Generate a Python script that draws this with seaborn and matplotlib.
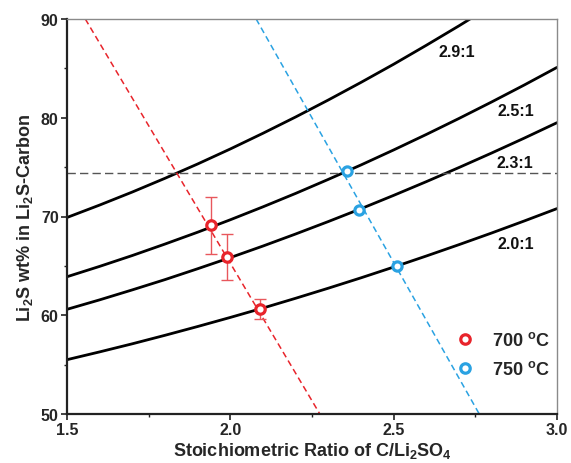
import matplotlib
matplotlib.use("Agg")
import matplotlib.pyplot as plt
from matplotlib.lines import Line2D
import seaborn as sns
import pandas as pd

# Li2S content curves for different C/Li2SO4 consumption ratios
ratio_x = [1.5, 1.6, 1.7, 1.8, 1.9, 2.0, 2.1, 2.2, 2.3, 2.4, 2.5,
           2.6, 2.7, 2.8, 2.9, 3.0]
ratio_20_y = [55.5, 56.29, 57.11, 57.97, 58.86, 59.78, 60.73, 61.72,
              62.74, 63.79, 64.88, 66.0, 67.15, 68.33, 69.55, 70.8]
ratio_23_y = [60.6, 61.56, 62.57, 63.61, 64.71, 65.84, 67.01, 68.23,
              69.49, 70.79, 72.14, 73.53, 74.96, 76.43, 77.94, 79.5]
ratio_25_y = [63.9, 64.95, 66.05, 67.21, 68.41, 69.67, 70.98, 72.34,
              73.76, 75.22, 76.74, 78.31, 79.93, 81.6, 83.32, 85.1]
ratio_29_y = [69.9, 71.16, 72.48, 73.87, 75.32, 76.84, 78.43, 80.08,
              81.8, 83.58, 85.42, 87.34, 89.31, 91.36, 93.5, 95.7]
curve_labels = ["2.0:1", "2.3:1", "2.5:1", "2.9:1"]

# measured samples
x_700 = [1.94, 1.99, 2.09]
y_700 = [69.1, 65.9, 60.6]
err_700 = [2.85, 2.3, 1.0]
x_750 = [2.358, 2.393, 2.511]
y_750 = [74.6, 70.7, 65.0]

# guide lines through each temperature series and the target level
guide_700_x = [1.556, 2.274]
guide_700_y = [90, 50]
guide_750_x = [2.079, 2.762]
guide_750_y = [90, 50]
target_level = 74.4

legend_labels = [r"700 $^{\mathbf{o}}$C", r"750 $^{\mathbf{o}}$C"]

RED = "#e8242b"
BLUE = "#2aa2e2"

sns.set_theme(style="ticks")
plt.rcParams["font.family"] = ["Liberation Sans", "DejaVu Sans"]
plt.rcParams["font.weight"] = "bold"
plt.rcParams["mathtext.fontset"] = "custom"
plt.rcParams["mathtext.rm"] = "Liberation Sans:bold"
plt.rcParams["mathtext.bf"] = "Liberation Sans:bold"
plt.rcParams["mathtext.default"] = "bf"

fig = plt.figure(figsize=(5.71, 4.64), dpi=100)
ax = fig.add_axes([67 / 571, 1 - 415 / 464, 490 / 571, 395 / 464])

curves = pd.concat([
    pd.DataFrame({"x": ratio_x, "y": ys, "c": lab})
    for ys, lab in zip([ratio_20_y, ratio_23_y, ratio_25_y, ratio_29_y],
                       curve_labels)
])
sns.lineplot(data=curves, x="x", y="y", units="c", estimator=None,
             color="black", lw=2.0, ax=ax, legend=False)

# dashed guides
sns.lineplot(x=guide_700_x, y=guide_700_y, color=RED, lw=1.1, ax=ax,
             linestyle=(0, (4, 2.5)), estimator=None)
sns.lineplot(x=guide_750_x, y=guide_750_y, color=BLUE, lw=1.1, ax=ax,
             linestyle=(0, (4, 2.5)), estimator=None)
ax.axhline(target_level, color="#555555", lw=1.0, linestyle=(0, (6, 3)))

# error bars for 700 °C samples
ax.errorbar(x_700, y_700, yerr=err_700, fmt="none", ecolor="#e8575c",
            elinewidth=1.0, capsize=4, capthick=1.0, zorder=4)

sns.scatterplot(x=x_700, y=y_700, marker="o", s=46, facecolor="white",
                edgecolor=RED, linewidth=2.3, ax=ax, zorder=5)
sns.scatterplot(x=x_750, y=y_750, marker="o", s=44, facecolor="white",
                edgecolor=BLUE, linewidth=2.3, ax=ax, zorder=5)

# curve annotations
label_pos = [(2.874, 67.3), (2.871, 75.45), (2.874, 80.7), (2.693, 86.75)]
for lab, (lx, ly) in zip(curve_labels, label_pos):
    ax.text(lx, ly, lab, ha="center", va="center", fontsize=11.5,
            fontweight="bold", color="#111111")

handles = [
    Line2D([], [], marker="o", ls="none", markersize=6.8, markerfacecolor="white",
           markeredgecolor=RED, markeredgewidth=2.3),
    Line2D([], [], marker="o", ls="none", markersize=6.8, markerfacecolor="white",
           markeredgecolor=BLUE, markeredgewidth=2.3),
]
leg = ax.legend(handles, legend_labels, loc="upper left",
                bbox_to_anchor=(0.775, 0.228), frameon=False,
                prop={"size": 13, "weight": "bold"}, handletextpad=0.9,
                labelspacing=0.62, handlelength=1.2, borderaxespad=0)

ax.set_xlim(1.5, 3.0)
ax.set_ylim(50, 90)
ax.set_xticks([1.5, 2.0, 2.5, 3.0])
ax.set_xticks([1.75, 2.25, 2.75], minor=True)
ax.set_yticks([50, 60, 70, 80, 90])
ax.set_yticks([55, 65, 75, 85], minor=True)
ax.set_xticklabels(["1.5", "2.0", "2.5", "3.0"])
ax.set_yticklabels(["50", "60", "70", "80", "90"])

ax.tick_params(axis="both", which="major", direction="out", length=4,
               width=1.2, labelsize=11.5, pad=2, color="#222222")
ax.tick_params(axis="both", which="minor", direction="out", length=2.5,
               width=1.0, color="#222222")
for lbl in ax.get_xticklabels() + ax.get_yticklabels():
    lbl.set_fontweight("bold")

ax.set_xlabel(r"Stoichiometric Ratio of C/Li$_2$SO$_4$", fontsize=13,
              fontweight="bold", labelpad=2)
ax.set_ylabel(r"Li$_2$S wt% in Li$_2$S-Carbon", fontsize=13,
              fontweight="bold", labelpad=4)

for side in ("left", "bottom"):
    ax.spines[side].set_color("#222222")
    ax.spines[side].set_linewidth(1.6)
for side in ("top", "right"):
    ax.spines[side].set_visible(True)
    ax.spines[side].set_color("#8a8a8a")
    ax.spines[side].set_linewidth(1.0)

fig.savefig("out.png", dpi=100, facecolor="white")
